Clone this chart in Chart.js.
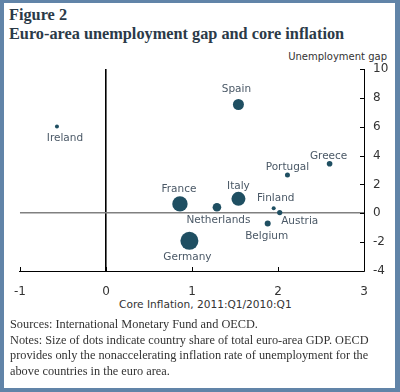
<!DOCTYPE html>
<html><head><meta charset="utf-8">
<script src="https://cdn.jsdelivr.net/npm/chart.js@4/dist/chart.umd.min.js"></script>
<style>
html,body{margin:0;padding:0;width:400px;height:392px;overflow:hidden;background:#6184a8;}
#panel{position:absolute;left:4px;top:3px;width:391px;height:385px;background:#fff;}
#c{position:absolute;left:0;top:0;}
.t{position:absolute;font-family:"Liberation Serif",serif;font-weight:bold;font-size:16.3px;color:#2b3a48;white-space:nowrap;}
.ax{position:absolute;font-family:"DejaVu Sans",sans-serif;font-size:10px;color:#333;white-space:nowrap;}
#notes{position:absolute;left:10px;top:317px;font-family:"Liberation Serif",serif;font-size:12.3px;line-height:15.5px;color:#333;white-space:nowrap;}
</style></head>
<body>
<div id="panel"></div>
<div class="t" style="left:9px;top:5px;">Figure 2</div>
<div class="t" style="left:9px;top:24px;">Euro-area unemployment gap and core inflation</div>
<div class="ax" style="right:13px;top:51px;">Unemployment gap</div>
<div class="ax" style="left:119px;top:298px;font-size:10.6px;">Core Inflation, 2011:Q1/2010:Q1</div>
<canvas id="c" width="400" height="392"></canvas>
<div id="notes">Sources: International Monetary Fund and OECD.<br>Notes: Size of dots indicate country share of total euro-area GDP. OECD<br>provides only the nonaccelerating inflation rate of unemployment for the<br>above countries in the euro area.</div>
<script>
const countries = ["Ireland","Spain","Greece","Portugal","Italy","France","Netherlands","Finland","Austria","Belgium","Germany"];
const coreInflation = [-0.57, 1.54, 2.60, 2.11, 1.54, 0.86, 1.29, 1.95, 2.02, 1.88, 0.97];
const unemploymentGap = [6.01, 7.54, 3.43, 2.65, 1.00, 0.65, 0.42, 0.35, 0.05, -0.70, -1.91];
const gdpDotSize = [2, 5.5, 2.8, 2.5, 7, 7.7, 4.3, 2, 2.6, 3, 9];
const xTicks = [-1, 0, 1, 2, 3];
const yTicks = [-4, -2, 0, 2, 4, 6, 8, 10];

// label offsets relative to each dot (style, not data)
const labelOffset = {
  Ireland:[8,12], Spain:[-2,-15], Greece:[-1,-8], Portugal:[0,-8], Italy:[0,-12.5],
  France:[-1,-15], Netherlands:[1.5,13.5], Finland:[2,-10], Austria:[20,8.5],
  Belgium:[-1,13], Germany:[-2,16]
};

const pts = countries.map((c,i)=>({x:coreInflation[i], y:unemploymentGap[i]}));

const labelPlugin = {
  id:'labels',
  afterDatasetsDraw(chart){
    const ctx = chart.ctx, meta = chart.getDatasetMeta(0);
    ctx.save();
    ctx.font = '10.5px "DejaVu Sans", sans-serif';
    ctx.fillStyle = '#4a5866';
    ctx.textAlign = 'center';
    ctx.textBaseline = 'middle';
    meta.data.forEach((el,i)=>{
      const o = labelOffset[countries[i]];
      ctx.fillText(countries[i], el.x + o[0], el.y + o[1]);
    });
    ctx.restore();
  }
};

const tickPlugin = {
  id:'inticks',
  afterDraw(chart){
    const ctx = chart.ctx, xs = chart.scales.x, ys = chart.scales.y, a = chart.chartArea;
    ctx.save();
    ctx.strokeStyle = '#000'; ctx.lineWidth = 1;
    xTicks.forEach(v=>{
      const px = Math.round(xs.getPixelForValue(v)) + 0.5;
      ctx.beginPath(); ctx.moveTo(px, a.bottom); ctx.lineTo(px, a.bottom - 4); ctx.stroke();
    });
    yTicks.forEach(v=>{
      const py = Math.round(ys.getPixelForValue(v)) + 0.5;
      ctx.beginPath(); ctx.moveTo(a.right, py); ctx.lineTo(a.right - 4, py); ctx.stroke();
    });
    ctx.restore();
  }
};

new Chart(document.getElementById('c'), {
  type:'scatter',
  data:{datasets:[{
    data: pts,
    pointRadius: gdpDotSize,
    pointHoverRadius: gdpDotSize,
    backgroundColor:'#1f4f62',
    borderColor:'#1f4f62',
    borderWidth:0
  }]},
  options:{
    responsive:false, animation:false,
    layout:{padding:{left:16, top:69, right:6, bottom:81}},
    plugins:{legend:{display:false}, tooltip:{enabled:false}},
    scales:{
      x:{
        type:'linear', position:'bottom', min:-1, max:3,
        afterBuildTicks(s){ s.ticks = xTicks.map(v=>({value:v})); },
        afterFit(s){ s.height = 40; },
        ticks:{padding:14, color:'#333', font:{family:'"DejaVu Sans", sans-serif', size:12}},
        grid:{drawTicks:false, lineWidth:1.6,
          color:(c)=> c.tick && c.tick.value===0 ? '#000' : 'rgba(0,0,0,0)'},
        border:{display:true, color:'#000', width:1}
      },
      y:{
        type:'linear', position:'right', min:-4, max:10,
        afterBuildTicks(s){ s.ticks = yTicks.map(v=>({value:v})); },
        afterFit(s){ s.width = 30; },
        ticks:{padding:9, color:'#333', font:{family:'"DejaVu Sans", sans-serif', size:12}},
        grid:{drawTicks:false, lineWidth:1.6,
          color:(c)=> c.tick && c.tick.value===0 ? '#808080' : 'rgba(0,0,0,0)'},
        border:{display:true, color:'#000', width:1}
      }
    }
  },
  plugins:[labelPlugin, tickPlugin]
});
</script>
</body></html>
